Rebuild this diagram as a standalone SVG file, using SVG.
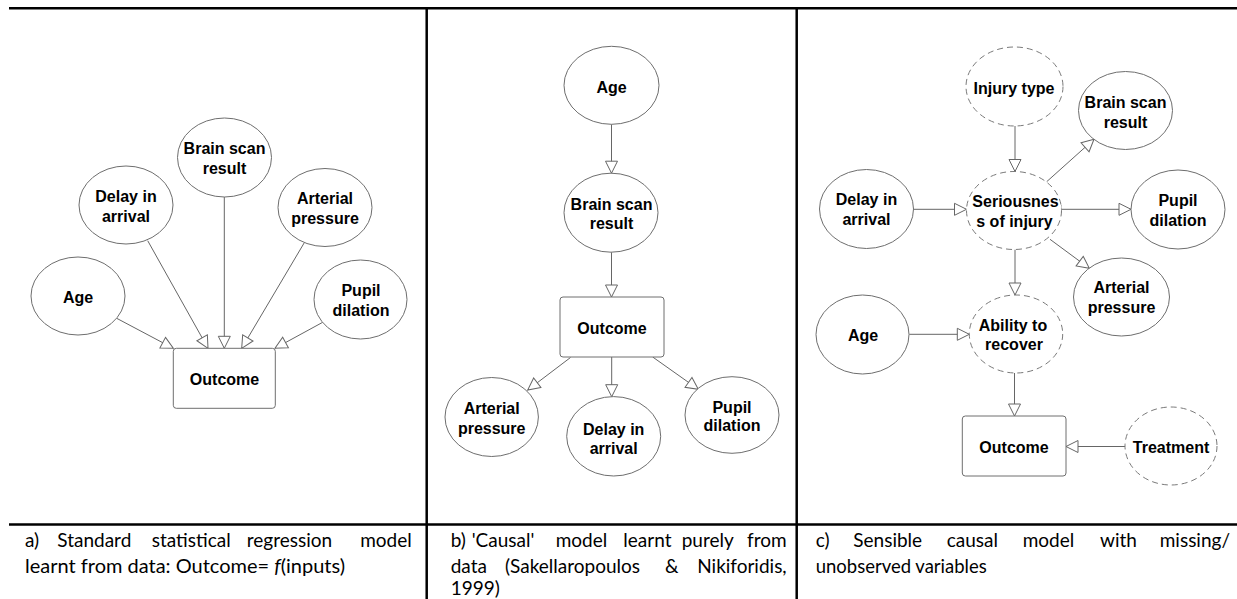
<svg xmlns="http://www.w3.org/2000/svg" width="1237" height="599" viewBox="0 0 1237 599">
<style>
.bg{fill:#fff}
.frame{stroke:#000;stroke-width:2.5;fill:none}
.node{fill:#fff;stroke:#6e6e6e;stroke-width:1}
.hid{fill:#fff;stroke:#7a7a7a;stroke-width:1;stroke-dasharray:6 4}
.box{fill:#fff;stroke:#6e6e6e;stroke-width:1}
.lbl{font-family:"Liberation Sans",Arial,sans-serif;font-weight:bold;font-size:16px;fill:#000;text-anchor:middle}
.cap{font-family:Lato,"Open Sans",sans-serif;font-size:19px;fill:#000}
.conn line{stroke:#666;stroke-width:1;fill:none;marker-end:url(#ah)}
.conn line.tick{marker-end:none}
</style>
<defs>
<marker id="ah" markerUnits="userSpaceOnUse" markerWidth="16" markerHeight="16" viewBox="0 0 16 16" refX="14" refY="8" orient="auto">
<path d="M2,2 L14,8 L2,14 Z" fill="#fff" stroke="#666" stroke-width="1"/>
</marker>
</defs>
<rect class="bg" x="0" y="0" width="1237" height="599"/>
<g id="frame">
<line class="frame" x1="9" y1="8.3" x2="1237" y2="8.3"/>
<line class="frame" x1="9" y1="524.5" x2="1237" y2="524.5"/>
<line class="frame" x1="426.7" y1="8" x2="426.7" y2="599"/>
<line class="frame" x1="796.7" y1="8" x2="796.7" y2="599"/>
</g>
<g class="conn" id="connectors">
<!-- panel a -->
<line x1="116.7" y1="318.3" x2="173.3" y2="348.3"/>
<line x1="147.7" y1="240.7" x2="208" y2="348.3"/>
<line x1="224.3" y1="197" x2="224.3" y2="348.3"/>
<line x1="304.3" y1="242.7" x2="241.7" y2="348.3"/>
<line x1="322.7" y1="322.3" x2="275" y2="348.3"/>
<!-- panel b -->
<line x1="611.5" y1="124.3" x2="611.5" y2="173.2"/>
<line x1="611.5" y1="252.2" x2="611.5" y2="297"/>
<line x1="570.5" y1="357.5" x2="527.7" y2="390"/>
<line x1="611.7" y1="357" x2="611.7" y2="396.7"/>
<line x1="652.7" y1="357" x2="698.3" y2="389.3"/>
<!-- panel c -->
<line x1="1015" y1="126" x2="1015" y2="171.5"/>
<line x1="1046.7" y1="181.7" x2="1094" y2="139.3"/>
<line x1="914" y1="209.3" x2="966.5" y2="209.3"/>
<line x1="1061.5" y1="209.3" x2="1131" y2="209.3"/>
<line class="tick" x1="1061" y1="205" x2="1061" y2="214"/>
<line x1="1050" y1="239.3" x2="1089.3" y2="268.3"/>
<line x1="1015" y1="249.5" x2="1015" y2="295"/>
<line x1="909.3" y1="334.3" x2="969.3" y2="334.3"/>
<line x1="1014.5" y1="373" x2="1014.5" y2="416"/>
<line x1="1125" y1="446.5" x2="1066" y2="446.5"/>
</g>
<!-- panel a nodes -->
<g id="a_age"><ellipse class="node" cx="78" cy="296" rx="47" ry="39"/><text class="lbl" x="78" y="303">Age</text></g>
<g id="a_delay"><ellipse class="node" cx="126" cy="205" rx="47" ry="39"/><text class="lbl" x="126" y="202">Delay in</text><text class="lbl" x="126" y="222">arrival</text></g>
<g id="a_brain"><ellipse class="node" cx="224.5" cy="157.5" rx="47" ry="39.5"/><text class="lbl" x="224.5" y="154">Brain scan</text><text class="lbl" x="224.5" y="173.5">result</text></g>
<g id="a_arterial"><ellipse class="node" cx="325" cy="207.5" rx="47" ry="39"/><text class="lbl" x="325" y="204">Arterial</text><text class="lbl" x="325" y="224">pressure</text></g>
<g id="a_pupil"><ellipse class="node" cx="360.5" cy="299.5" rx="46.5" ry="39.5"/><text class="lbl" x="361" y="296">Pupil</text><text class="lbl" x="361" y="316">dilation</text></g>
<g id="a_outcome"><rect class="box" x="173.3" y="348.3" width="102" height="60" rx="3"/><text class="lbl" x="224.5" y="385">Outcome</text></g>
<!-- panel b nodes -->
<g id="b_age"><ellipse class="node" cx="611.5" cy="85.3" rx="47.5" ry="39"/><text class="lbl" x="611.5" y="92.5">Age</text></g>
<g id="b_brain"><ellipse class="node" cx="611" cy="212.7" rx="47" ry="39.5"/><text class="lbl" x="611.5" y="210">Brain scan</text><text class="lbl" x="611.5" y="229">result</text></g>
<g id="b_outcome"><rect class="box" x="560" y="297" width="104" height="60" rx="3"/><text class="lbl" x="612" y="334">Outcome</text></g>
<g id="b_arterial"><ellipse class="node" cx="491.7" cy="417" rx="46.7" ry="39.5"/><text class="lbl" x="491.7" y="414">Arterial</text><text class="lbl" x="491.7" y="434">pressure</text></g>
<g id="b_delay"><ellipse class="node" cx="613.7" cy="436.3" rx="47" ry="39.7"/><text class="lbl" x="613.7" y="435">Delay in</text><text class="lbl" x="613.7" y="454">arrival</text></g>
<g id="b_pupil"><ellipse class="node" cx="732" cy="415" rx="47" ry="38.3"/><text class="lbl" x="732" y="412.7">Pupil</text><text class="lbl" x="732" y="431">dilation</text></g>
<!-- panel c nodes -->
<g id="c_injury"><ellipse class="hid" cx="1014.5" cy="86.5" rx="48.5" ry="39.5"/><text class="lbl" x="1014" y="93.5">Injury type</text></g>
<g id="c_brain"><ellipse class="node" cx="1125.5" cy="110.5" rx="47" ry="39"/><text class="lbl" x="1125.5" y="107.5">Brain scan</text><text class="lbl" x="1125.5" y="127.5">result</text></g>
<g id="c_serious"><ellipse class="hid" cx="1014" cy="210.5" rx="47.5" ry="39"/><text class="lbl" x="1015.5" y="207">Seriousnes</text><text class="lbl" x="1014.5" y="227">s of injury</text></g>
<g id="c_delay"><ellipse class="node" cx="866.5" cy="209" rx="47" ry="39.5"/><text class="lbl" x="866.5" y="205">Delay in</text><text class="lbl" x="866.5" y="225">arrival</text></g>
<g id="c_pupil"><ellipse class="node" cx="1178" cy="209.5" rx="47" ry="39.5"/><text class="lbl" x="1178" y="205.5">Pupil</text><text class="lbl" x="1178" y="225.5">dilation</text></g>
<g id="c_arterial"><ellipse class="node" cx="1121.5" cy="297" rx="48" ry="39"/><text class="lbl" x="1121.5" y="293">Arterial</text><text class="lbl" x="1121.5" y="313">pressure</text></g>
<g id="c_ability"><ellipse class="hid" cx="1016" cy="334" rx="46.7" ry="39"/><text class="lbl" x="1013" y="330.5">Ability to</text><text class="lbl" x="1014" y="350">recover</text></g>
<g id="c_age"><ellipse class="node" cx="862.5" cy="334.5" rx="46.5" ry="39.5"/><text class="lbl" x="863" y="341">Age</text></g>
<g id="c_outcome"><rect class="box" x="962.3" y="416" width="103.7" height="60" rx="3"/><text class="lbl" x="1014" y="452.5">Outcome</text></g>
<g id="c_treatment"><ellipse class="hid" cx="1171" cy="446" rx="46" ry="39"/><text class="lbl" x="1171" y="452.5">Treatment</text></g>
<!-- captions -->
<g id="caption_a" class="cap">
<text x="25" y="547">a)</text>
<text x="57.3" y="547">Standard</text>
<text x="151.7" y="547">statistical</text>
<text x="246.7" y="547">regression</text>
<text x="411.7" y="547" text-anchor="end">model</text>
<text x="25" y="573" textLength="320" lengthAdjust="spacingAndGlyphs">learnt from data: Outcome= <tspan font-style="italic">f</tspan>(inputs)</text>
</g>
<g id="caption_b" class="cap">
<text x="450.7" y="547">b)</text>
<text x="471.7" y="547">'Causal'</text>
<text x="555.7" y="547">model</text>
<text x="623.3" y="547">learnt</text>
<text x="681.7" y="547">purely</text>
<text x="786.7" y="547" text-anchor="end">from</text>
<text x="450.7" y="573">data</text>
<text x="505" y="573">(Sakellaropoulos</text>
<text x="665" y="573">&amp;</text>
<text x="786.7" y="573" text-anchor="end">Nikiforidis,</text>
<text x="450.7" y="595">1999)</text>
</g>
<g id="caption_c" class="cap">
<text x="815.7" y="547">c)</text>
<text x="853.3" y="547">Sensible</text>
<text x="946.7" y="547">causal</text>
<text x="1022.7" y="547">model</text>
<text x="1100" y="547">with</text>
<text x="1230" y="547" text-anchor="end">missing/</text>
<text x="815.7" y="573" textLength="171" lengthAdjust="spacingAndGlyphs">unobserved variables</text>
</g>
</svg>
